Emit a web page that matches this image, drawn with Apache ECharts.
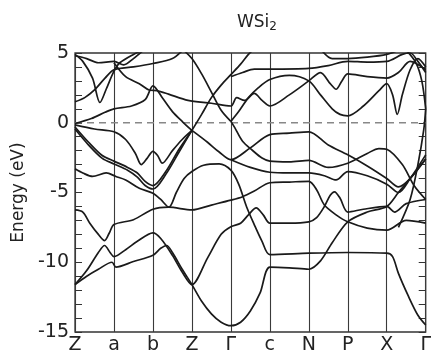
<!DOCTYPE html>
<html>
<head>
<meta charset="utf-8">
<script src="https://cdn.jsdelivr.net/npm/echarts@6/dist/echarts.min.js"></script>
<style>
  html, body { margin: 0; padding: 0; background: #fff; }
  #main { width: 434px; height: 356px; }
</style>
</head>
<body>
<div id="main"></div>
<script>
// k-path labels (equal segments)
const kLabels = ['Z', 'a', 'b', 'Z', 'Γ', 'c', 'N', 'P', 'X', 'Γ'];
const yTicks = [-15, -10, -5, 0, 5];

// bands: [k position, energy eV]
const bandA = [[0,-11.6],[0.3,-11.0],[0.6,-10.5],[0.95,-10.0],[1.05,-10.35],[1.5,-9.95],[2,-9.5],[2.2,-9.0],[2.35,-8.8],[2.5,-9.3],[2.75,-10.5],[3,-11.6],[3.25,-12.8],[3.5,-13.7],[3.75,-14.3],[4,-14.55],[4.25,-14.3],[4.5,-13.5],[4.75,-12.2],[5,-10.35],[5.5,-10.4],[6,-10.5],[6.3,-9.9],[6.6,-8.6],[7,-7.1],[7.5,-6.4],[8,-6.0],[8.3,-5.0],[8.6,-4.0],[9,-2.6]];
const bandB = [[0,-11.6],[0.3,-10.6],[0.6,-9.3],[0.76,-8.8],[0.9,-9.3],[1,-9.6],[1.3,-9.1],[1.6,-8.5],[2,-7.9],[2.2,-8.3],[2.5,-9.5],[2.75,-10.7],[3,-11.6],[3.4,-9.7],[3.75,-8.0],[4,-7.45],[4.25,-7.2],[4.45,-6.6],[4.65,-6.1],[4.83,-6.6],[5,-7.2],[5.5,-7.2],[6,-7.1],[6.2,-6.8],[6.4,-6.0],[6.55,-5.2],[6.66,-4.95],[6.8,-5.4],[7,-6.4],[7.4,-6.2],[8,-6.0],[8.2,-6.4],[8.5,-5.8],[9,-5.5]];
const bandC = [[0,-6.25],[0.2,-6.4],[0.38,-7.2],[0.6,-8.0],[0.76,-8.45],[0.88,-7.9],[1,-7.3],[1.5,-6.95],[2,-6.2],[2.4,-6.05],[3,-6.25],[3.5,-5.9],[4,-5.55],[4.3,-5.3],[4.6,-4.9],[5,-4.3],[5.5,-4.25],[6,-4.2],[6.2,-4.8],[6.4,-5.9],[6.7,-6.6],[7,-7.1],[7.5,-7.55],[8,-7.7],[8.5,-7.0],[9,-7.2]];
const bandD = [[0,-3.3],[0.2,-3.6],[0.45,-3.85],[0.8,-3.6],[1.05,-3.85],[1.3,-4.1],[1.65,-4.7],[2,-5.05],[2.2,-5.5],[2.41,-6.05],[2.6,-5.0],[2.8,-4.0],[3,-3.5],[3.3,-3.05],[3.7,-2.95],[4,-3.4],[4.2,-4.4],[4.4,-6.0],[4.6,-7.3],[4.8,-8.5],[5,-9.45],[6,-9.35],[7,-9.3],[8,-9.35],[8.15,-9.6],[8.3,-10.8],[8.55,-12.4],[8.8,-13.8],[9,-14.5]];
const bandE1 = [[0,-0.3],[0.35,-1.4],[0.7,-2.35],[1,-2.75],[1.35,-3.2],[1.6,-3.6],[1.8,-4.2],[2,-4.5],[2.33,-3.5],[2.67,-1.9],[3,-0.55]];
const bandE2 = [[0,-0.45],[0.35,-1.6],[0.7,-2.55],[1,-2.95],[1.35,-3.4],[1.6,-3.9],[1.8,-4.5],[2,-4.75],[2.33,-3.7],[2.67,-2.1],[3,-0.55]];
const bandW = [[0,-0.15],[0.5,-0.45],[1,-0.65],[1.3,-1.2],[1.55,-2.2],[1.7,-3.0],[1.85,-2.55],[2,-2.05],[2.12,-2.35],[2.24,-2.9],[2.5,-2.0],[2.75,-1.2],[3,-0.55]];
const bandF = [[3,-0.55],[3.4,-1.4],[3.7,-2.1],[4,-2.65],[4.5,-1.8],[5,-0.85],[5.5,-0.75],[6,-0.65],[6.5,-1.6],[7,-2.3],[7.5,-3.1],[8,-4.0],[8.3,-4.6],[8.6,-4.0],[9,-2.6]];
const bandG = [[4,0.1],[4.1,-0.35],[4.3,-1.33],[4.55,-1.97],[4.8,-2.53],[5,-2.75],[5.5,-2.8],[6,-2.7],[6.5,-3.2],[7,-2.9],[7.5,-2.2],[7.8,-1.85],[8,-1.9],[8.4,-3.0],[8.7,-4.5],[9,-5.5]];
const bandH = [[4,-2.65],[4.5,-3.2],[5,-3.55],[5.5,-3.6],[6,-3.6],[6.4,-3.8],[6.7,-4.1],[7,-3.5],[7.5,-3.8],[8,-4.4],[8.3,-5.0],[8.6,-4.0],[9,-2.3]];
const bandU1 = [[0,4.9],[0.2,4.4],[0.45,3.2],[0.64,1.45],[0.8,2.4],[1,3.7],[1.15,4.3],[1.5,4.9],[1.8,5.3]];
const bandU2 = [[0,1.5],[0.25,1.8],[0.5,2.35],[0.77,3.2],[1,3.8],[1.5,4.0],[2,4.25],[2.5,4.6],[2.8,5.3]];
const bandU3 = [[0,4.8],[0.3,4.6],[0.6,4.3],[1,4.4],[1.25,4.15],[1.5,4.6],[1.8,5.3]];
const bandU4 = [[1,4.3],[1.3,3.3],[1.65,2.8],[1.9,2.35],[2.1,2.3],[2.4,2.05],[2.9,1.6],[3.5,1.4],[4,1.2],[4.15,1.8],[4.35,1.6],[4.6,2.1],[4.8,1.6],[5,1.2],[5.5,2.0],[6,3.0],[6.3,3.6],[6.55,2.8],[6.7,2.4],[6.85,3.0],[7,3.5],[7.5,3.3],[8,3.2],[8.3,3.6],[8.6,4.4],[9,3.8]];
const bandU5 = [[0,-0.05],[0.42,0.3],[0.77,0.75],[1,1.0],[1.45,1.2],[1.8,1.65],[2,2.65],[2.25,1.75],[2.5,0.8],[2.76,0.07],[3,-0.55]];
const bandVL = [[2.75,5.3],[3,4.6],[3.25,3.5],[3.5,2.2],[3.75,0.9],[4,0.1]];
const bandVR = [[4,0.1],[4.2,0.8],[4.45,1.8],[4.7,2.5],[5,3.1],[5.5,3.4],[6,3.0],[6.3,2.0],[6.6,1.0],[6.8,0.6],[7,0.5],[7.4,1.2],[7.8,2.3],[8,2.8],[8.15,2.0],[8.27,0.6],[8.4,2.0],[8.6,3.8],[8.8,4.6],[9,4.0]];
const bandZG = [[3,-0.55],[3.25,0.6],[3.5,1.8],[3.75,2.7],[4,3.45],[4.25,4.2],[4.45,4.9],[4.6,5.3]];
const bandFlat = [[4,3.3],[4.3,3.6],[4.6,3.85],[5,3.85],[6,3.9],[6.5,4.1],[7,4.4],[7.5,4.35],[8,4.4],[8.4,4.9],[8.6,5.0],[8.8,4.4],[9,3.6]];
const bandTop = [[6.3,5.3],[6.6,4.6],[7,4.6],[7.5,4.7],[8,4.9],[8.3,5.2]];
const bandRise = [[8.3,-7.5],[8.6,-5.5],[8.8,-3.0],[8.95,-0.5],[9,1.0]];
const bandArc = [[8.5,5.2],[8.75,4.3],[8.9,3.0],[9,1.0]];

const bands = [bandA, bandB, bandC, bandD, bandE1, bandE2, bandW, bandF, bandG, bandH,
  bandU1, bandU2, bandU3, bandU4, bandU5, bandVL, bandVR, bandZG, bandFlat, bandTop, bandRise, bandArc];

const chart = echarts.init(document.getElementById('main'), null, { renderer: 'canvas' });

const series = bands.map(function (b) {
  return {
    type: 'line',
    data: b,
    showSymbol: false,
    smooth: 0.3,
    clip: true,
    lineStyle: { color: '#1a1a1a', width: 1.7 },
    z: 3
  };
});
// Fermi level
series.push({
  type: 'line',
  data: [[0, 0], [9, 0]],
  showSymbol: false,
  lineStyle: { color: '#888', width: 1.5, type: [7, 5] },
  z: 2
});

const font = 'DejaVu Sans, Liberation Sans, sans-serif';

chart.setOption({
  animation: false,
  title: {
    text: '{m|WSi}{s|2}',
    left: 252,
    top: 8,
    textAlign: 'center',
    textStyle: {
      rich: {
        m: { fontFamily: font, fontSize: 17, fontWeight: 'normal', color: '#222' },
        s: { fontFamily: font, fontSize: 12, fontWeight: 'normal', color: '#222', padding: [8, 0, 0, 0] }
      }
    }
  },
  grid: { left: 75, right: 5, top: 53, bottom: 24, show: true, borderColor: '#333', borderWidth: 1.3 },
  xAxis: {
    type: 'value',
    min: 0, max: 9, interval: 1,
    axisLine: { show: false },
    axisTick: { show: false },
    splitLine: { show: true, lineStyle: { color: '#3a3a3a', width: 1.1 } },
    axisLabel: {
      margin: 4,
      fontFamily: font, fontSize: 19, color: '#222',
      formatter: function (v) { return kLabels[Math.round(v)]; }
    }
  },
  yAxis: [{
    type: 'value',
    min: -15, max: 5, interval: 5,
    name: 'Energy (eV)',
    nameLocation: 'middle',
    nameGap: 46,
    nameTextStyle: { fontFamily: font, fontSize: 17, color: '#222' },
    axisLine: { show: false },
    axisTick: { show: true, inside: true, length: 7, lineStyle: { color: '#333' } },
    minorTick: { show: true, splitNumber: 5, length: 7, lineStyle: { color: '#333' } },
    splitLine: { show: false },
    axisLabel: {
      margin: 6, fontFamily: font, fontSize: 19, color: '#222',
      formatter: function (v) { return yTicks.indexOf(v) >= 0 ? String(v) : ''; }
    }
  }, {
    type: 'value',
    position: 'right',
    min: -15, max: 5, interval: 5,
    axisLine: { show: false },
    axisTick: { show: true, inside: true, length: 7, lineStyle: { color: '#333' } },
    minorTick: { show: true, splitNumber: 5, length: 7, lineStyle: { color: '#333' } },
    splitLine: { show: false },
    axisLabel: { show: false }
  }],
  series: series
});
</script>
</body>
</html>
